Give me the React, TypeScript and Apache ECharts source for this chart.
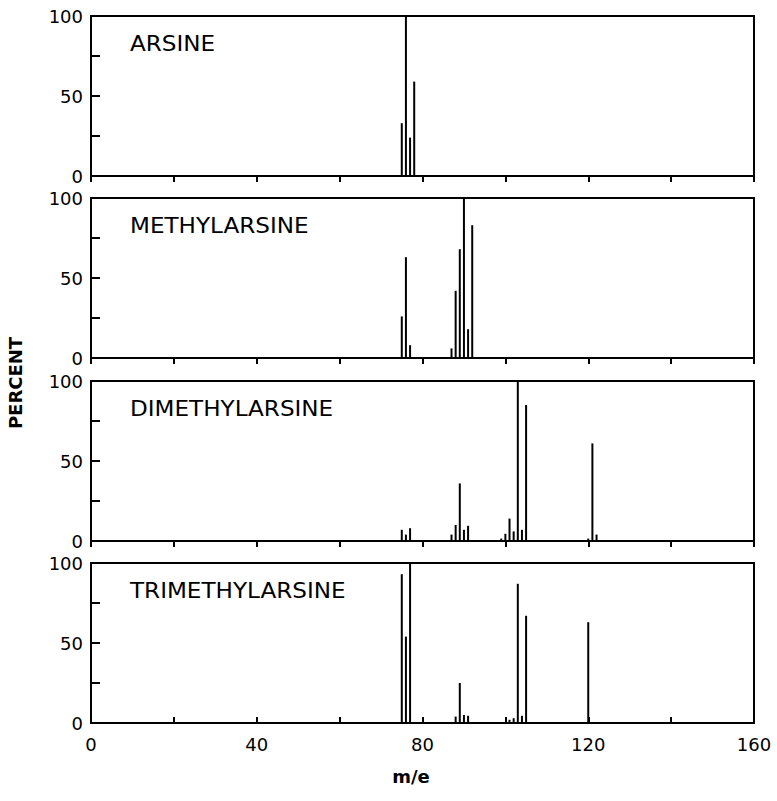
import React, { useEffect, useRef } from "react";
import * as echarts from "echarts";

// m/e positions and relative intensities (%)
const arsineMz = [75, 76, 77, 78];
const arsineVal = [33, 100, 24, 59];

const methylMz = [75, 76, 77, 87, 88, 89, 90, 91, 92];
const methylVal = [26, 63, 8, 6, 42, 68, 100, 18, 83];

const dimethylMz = [75, 76, 77, 87, 88, 89, 90, 91, 99, 100, 101, 102, 103, 104, 105, 120, 121, 122];
const dimethylVal = [7, 4, 8, 4, 10, 36, 7, 9.5, 1.5, 4.5, 14, 6, 100, 7, 85, 1.5, 61, 4];

const trimethylMz = [75, 76, 77, 88, 89, 90, 91, 101, 102, 103, 104, 105, 120];
const trimethylVal = [93, 54, 100, 4, 25, 5, 4.5, 2, 3, 87, 4.5, 67, 63];

const panelNames = ["ARSINE", "METHYLARSINE", "DIMETHYLARSINE", "TRIMETHYLARSINE"];
const xTickLabels = [0, 40, 80, 120, 160];
const yTickLabels = [0, 50, 100];

const panels = [
  { mz: arsineMz, val: arsineVal },
  { mz: methylMz, val: methylVal },
  { mz: dimethylMz, val: dimethylVal },
  { mz: trimethylMz, val: trimethylVal },
];

const gridTops = [16, 198, 381, 563];
const gridHeight = 160;
const FONT = "DejaVu Sans";

export default function App() {
  const ref = useRef<HTMLDivElement>(null);
  useEffect(() => {
    if (!ref.current) return;
    const chart = echarts.init(ref.current, undefined, { renderer: "svg" });
    const last = panels.length - 1;
    const option: any = {
      animation: false,
      backgroundColor: "#fff",
      grid: gridTops.map((t) => ({
        left: 91,
        right: 23,
        top: t,
        height: gridHeight,
        show: true,
        borderColor: "#000",
        borderWidth: 2,
        backgroundColor: "transparent",
      })),
      xAxis: panels.map((_, i) => ({
        type: "value",
        gridIndex: i,
        min: 0,
        max: 160,
        interval: 20,
        axisLine: { show: true, onZero: false, lineStyle: { color: "#000", width: 2 } },
        axisTick: { show: true, inside: i === last, length: 6, lineStyle: { color: "#000", width: 2 } },
        axisLabel: {
          show: i === last,
          color: "#000",
          fontSize: 18,
          fontFamily: FONT,
          margin: 12,
          formatter: (v: number) => (xTickLabels.includes(v) ? String(v) : ""),
        },
        splitLine: { show: false },
      })),
      yAxis: panels.map((_, i) => ({
        type: "value",
        gridIndex: i,
        min: 0,
        max: 100,
        interval: 25,
        axisLine: { show: true, onZero: false, lineStyle: { color: "#000", width: 2 } },
        axisTick: { show: true, inside: true, length: 9, lineStyle: { color: "#000", width: 2 } },
        axisLabel: {
          color: "#000",
          fontSize: 18,
          fontFamily: FONT,
          margin: 8,
          formatter: (v: number) => (yTickLabels.includes(v) ? String(v) : ""),
        },
        splitLine: { show: false },
      })),
      series: panels.map((p, i) => ({
        type: "bar",
        xAxisIndex: i,
        yAxisIndex: i,
        barWidth: 2,
        silent: true,
        itemStyle: { color: "#000" },
        data: p.mz.map((m, j) => [m, p.val[j]]),
      })),
      graphic: [
        ...panelNames.map((name, i) => ({
          type: "text",
          x: 130,
          y: gridTops[i] + 28,
          scaleX: 1.1,
          style: {
            text: name,
            font: `21px "${FONT}"`,
            fill: "#000",
            textAlign: "left",
            textVerticalAlign: "middle",
          },
        })),
        {
          type: "text",
          x: 15,
          y: 383,
          rotation: Math.PI / 2,
          style: {
            text: "PERCENT",
            font: `bold 18px "${FONT}"`,
            fill: "#000",
            textAlign: "center",
            textVerticalAlign: "middle",
          },
        },
        {
          type: "text",
          x: 411,
          y: 776,
          style: {
            text: "m/e",
            font: `bold 18px "${FONT}"`,
            fill: "#000",
            textAlign: "center",
            textVerticalAlign: "middle",
          },
        },
      ],
    };
    chart.setOption(option);
    return () => chart.dispose();
  }, []);
  return (
    <div
      ref={ref}
      style={{ position: "fixed", left: 0, top: 0, width: 777, height: 801, background: "#fff" }}
    />
  );
}
